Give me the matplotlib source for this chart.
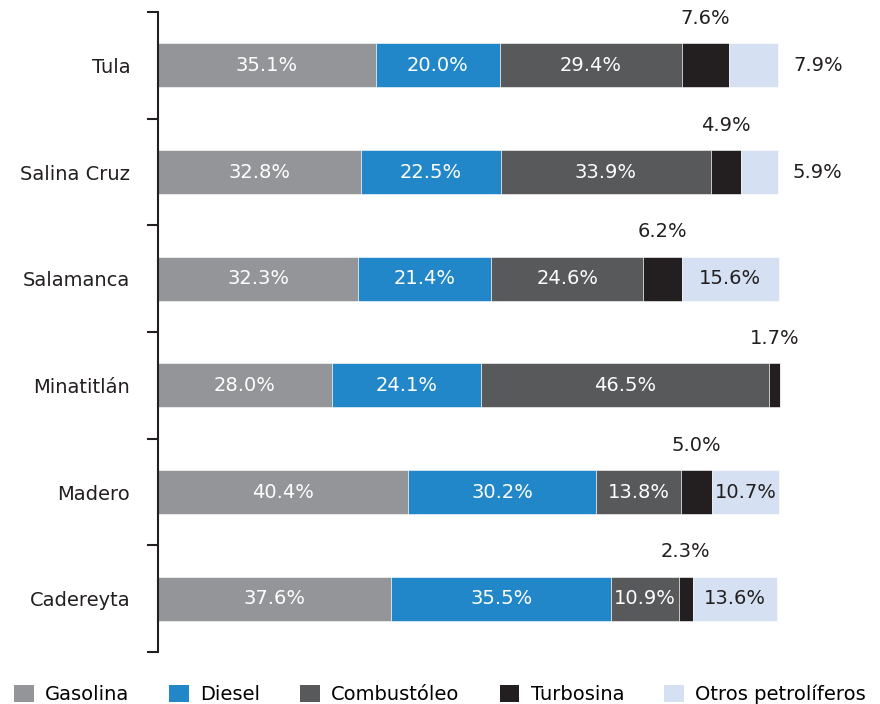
import numpy as np
import matplotlib.pyplot as plt
from matplotlib.patches import Patch

# Datos
refinerias = ["Tula", "Salina Cruz", "Salamanca", "Minatitlán", "Madero", "Cadereyta"]
gasolina = [35.1, 32.8, 32.3, 28.0, 40.4, 37.6]
diesel = [20.0, 22.5, 21.4, 24.1, 30.2, 35.5]
combustoleo = [29.4, 33.9, 24.6, 46.5, 13.8, 10.9]
turbosina = [7.6, 4.9, 6.2, 1.7, 5.0, 2.3]
otros = [7.9, 5.9, 15.6, 0.0, 10.7, 13.6]

nombres = ["Gasolina", "Diesel", "Combustóleo", "Turbosina", "Otros petrolíferos"]
colores = ["#939598", "#2287c9", "#58595b", "#231f20", "#d5e1f2"]
series = [gasolina, diesel, combustoleo, turbosina, otros]

plt.rcParams['font.family'] = ['DejaVu Sans']

fig = plt.figure(figsize=(8.8, 7.04), dpi=100)
ax = fig.add_axes([158/880, 1 - 652/704, 720/880, 640/704])

y = np.arange(len(refinerias))
left = np.zeros(len(refinerias))
fs = 14

for k, (vals, col) in enumerate(zip(series, colores)):
    vals = np.array(vals)
    ax.barh(y, vals, left=left, height=0.41, color=col, edgecolor='white', linewidth=0.4)
    for i, v in enumerate(vals):
        if v == 0:
            continue
        cx = left[i] + v / 2
        if k == 3:
            # turbosina: etiqueta arriba de la barra
            ax.text(cx, y[i] - 0.44, f"{v:.1f}%", ha='center', va='center',
                    fontsize=fs, color='#231f20')
        elif k == 4:
            if v < 10:
                ax.text(left[i] + v + 2.4, y[i], f"{v:.1f}%", ha='left', va='center',
                        fontsize=fs, color='#231f20')
            else:
                ax.text(cx, y[i], f"{v:.1f}%", ha='center', va='center',
                        fontsize=fs, color='#231f20')
        else:
            ax.text(cx, y[i], f"{v:.1f}%", ha='center', va='center',
                    fontsize=fs, color='white')
    left = left + vals

ax.set_xlim(0, 720 / 6.2)
ax.set_ylim(len(refinerias) - 0.5, -0.5)

for s in ['top', 'right', 'bottom']:
    ax.spines[s].set_visible(False)
ax.spines['left'].set_linewidth(1.5)
ax.spines['left'].set_color('#231f20')
ax.set_xticks([])
ax.set_yticks(y)
ax.set_yticklabels(refinerias, fontsize=fs, color='#231f20')
ax.tick_params(axis='y', which='major', length=0, pad=20)
ax.set_yticks(np.arange(-0.5, len(refinerias), 1.0), minor=True)
ax.tick_params(axis='y', which='minor', length=8, width=1.5, color='#231f20')

handles = [Patch(facecolor=c, edgecolor='none') for c in colores]
fig.legend(handles, nombres, loc='lower center', bbox_to_anchor=(0.5, -0.025), ncol=5,
           frameon=False, fontsize=fs, handlelength=1.0, handleheight=1.0,
           handletextpad=0.6, columnspacing=2.05)

fig.savefig("out.png", dpi=100)
